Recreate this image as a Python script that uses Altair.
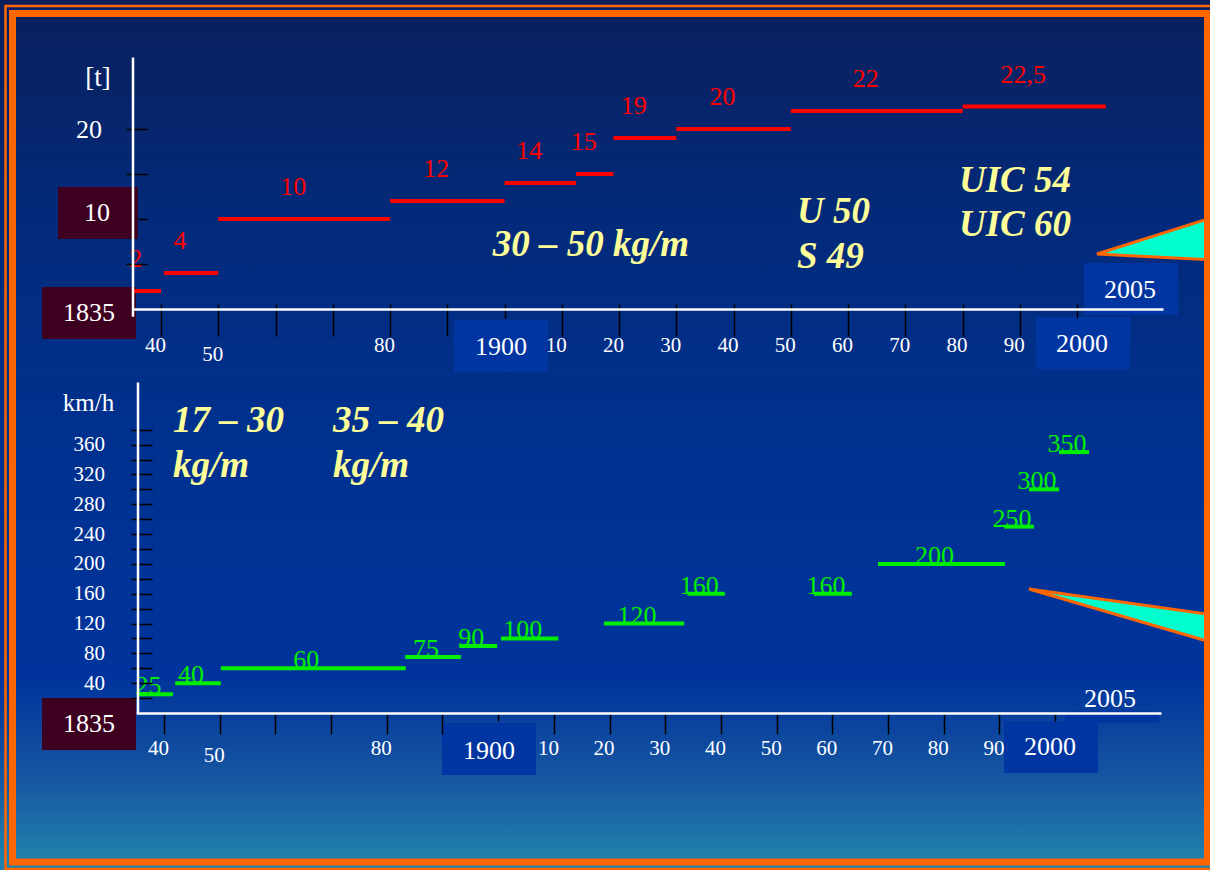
import altair as alt
import pandas as pd

# ---------------- data ----------------
# upper panel: axle load [t]
load_start = [1835, 1840.5, 1850, 1880, 1900, 1912.5, 1919, 1930, 1950, 1980]
load_end = [1840, 1850, 1880, 1900, 1912.5, 1919, 1930, 1950, 1980, 2005]
load_t = [2, 4, 10, 12, 14, 15, 19, 20, 22, 22.5]
load_label = ["2", "4", "10", "12", "14", "15", "19", "20", "22", "22,5"]

# lower panel: speed [km/h]
speed_start = [1835.3, 1842, 1850.2, 1883.3, 1893, 1900.5, 1919, 1934, 1956.7, 1968.2, 1990.8, 1995.3, 2000.7]
speed_end = [1841.6, 1850.2, 1883.4, 1893.3, 1899.8, 1910.8, 1933.4, 1940.7, 1963.5, 1991, 1996.2, 2000.7, 2006.1]
speed_kmh = [25, 40, 60, 75, 90, 100, 120, 160, 160, 200, 250, 300, 350]
speed_label = ["25", "40", "60", "75", "90", "100", "120", "160", "160", "200", "250", "300", "350"]

# axis ticks / labels
decade_ticks = [1840, 1850, 1860, 1870, 1880, 1890, 1900, 1910, 1920, 1930, 1940,
                1950, 1960, 1970, 1980, 1990, 2000]
year_labels = [1840, 1850, 1880, 1910, 1920, 1930, 1940, 1950, 1960, 1970, 1980, 1990]
load_ticks = [5, 10, 15, 20]
load_labels = [20]
speed_ticks = [20, 40, 60, 80, 100, 120, 140, 160, 180, 200, 220, 240, 260, 280,
               300, 320, 340, 360, 380]
speed_labels = [40, 80, 120, 160, 200, 240, 280, 320, 360]

# ---------------- styling ----------------
FONT = "Liberation Serif"
W, H = 1210, 870
ORANGE = "#ff6600"
YELLOW = "#ffff99"
MAROON = "#3d0020"
BOXBLUE = "#0035a2"

one = alt.Data(values=[{"a": 1}])

top_x = alt.Scale(domain=[1835, 2015], range=[132.4, 1163], nice=False, zero=False)
top_y = alt.Scale(domain=[-0.8, 28], range=[316.2, 57], nice=False, zero=False)
bot_x = alt.Scale(domain=[1835, 2019], range=[136.2, 1160.9], nice=False, zero=False)
bot_y = alt.Scale(domain=[0, 444], range=[713, 382], nice=False, zero=False)


def tick_axis_x(ypix, long, short):
    return alt.Axis(orient="bottom", offset=ypix - H, values=decade_ticks, labels=False,
                    domain=False, grid=False, ticks=True, tickColor="black", tickWidth=1.5,
                    tickSize={"condition": {"test": "datum.value == 1900 || datum.value == 2000",
                                            "value": short}, "value": long},
                    title=None, zindex=1)


def main_axis_x(ypix, pad, pad50):
    return alt.Axis(orient="bottom", offset=ypix - H, values=year_labels,
                    labelExpr="'' + (datum.value % 100)", domain=True, domainColor="white",
                    domainWidth=2.5, ticks=False, tickSize=0, grid=False, labelColor="white",
                    labelFont=FONT, labelFontSize=21, labelBaseline="middle",
                    labelPadding={"condition": {"test": "datum.value == 1850", "value": pad50},
                                  "value": pad},
                    labelOffset=-6, labelFlush=False, labelOverlap=False, title=None, zindex=1)


def tick_axis_y(xpix, values, short_test=None):
    size = 21
    if short_test:
        size = {"condition": {"test": short_test, "value": 9}, "value": 21}
    return alt.Axis(orient="left", offset=-xpix, values=values, labels=False, domain=False,
                    grid=False, ticks=True, tickColor="black", tickWidth=1.5, tickSize=size,
                    title=None, zindex=1)


def main_axis_y(xpix, values, fsize, pad, title, tx, ty, tsize):
    return alt.Axis(orient="left", offset=-xpix, values=values, domain=True,
                    domainColor="white", domainWidth=2.5, ticks=False, tickSize=0, grid=False,
                    labelColor="white", labelFont=FONT, labelFontSize=fsize, labelPadding=pad,
                    labelOverlap=False, labelFlush=False,
                    title=title, titleColor="white", titleFont=FONT, titleFontSize=tsize,
                    titleFontWeight="normal", titleAngle=0, titleX=tx, titleY=ty,
                    titleAlign="center", titleBaseline="middle", zindex=1)


def txt(s, x, y, size, color="white", align="center", baseline="middle",
        style="normal", weight="normal"):
    return alt.Chart(one).mark_text(text=s, font=FONT, fontSize=size, color=color, align=align,
                                    baseline=baseline, fontStyle=style,
                                    fontWeight=weight).encode(x=alt.value(x), y=alt.value(y))


def box(x, x2, y, y2, color):
    return alt.Chart(one).mark_rect(color=color).encode(
        x=alt.value(x), x2=alt.value(x2), y=alt.value(y), y2=alt.value(y2))


def yellow(s, x, y, align="left"):
    return txt(s, x, y, 37, color=YELLOW, align=align, baseline="alphabetic",
               style="italic", weight="bold")


def callout(tip, top, bottom):
    df = pd.DataFrame({"px": [tip[0], top[0]], "py": [tip[1], top[1]],
                       "py2": [tip[1], bottom[1]]})
    return alt.Chart(df).mark_area(fill="#00ffcc", stroke=ORANGE, strokeWidth=3,
                                   orient="vertical", interpolate="linear").encode(
        x=alt.X("px:Q", scale=None, axis=None),
        y=alt.Y("py:Q", scale=None, axis=None),
        y2="py2:Q")


# ---------------- background & frame ----------------
bg = alt.Chart(one).mark_rect(fill=alt.Gradient(
    gradient="linear", x1=0, x2=0, y1=0, y2=1,
    stops=[alt.GradientStop(color="#0a1f5c", offset=0.0),
           alt.GradientStop(color="#032a7a", offset=0.25),
           alt.GradientStop(color="#00318f", offset=0.5),
           alt.GradientStop(color="#00349c", offset=0.78),
           alt.GradientStop(color="#0c459e", offset=0.84),
           alt.GradientStop(color="#1758a2", offset=0.9),
           alt.GradientStop(color="#2183ad", offset=0.99),
           alt.GradientStop(color="#2183ad", offset=1.0)])).encode(
    x=alt.value(0), x2=alt.value(W), y=alt.value(0), y2=alt.value(H))

frame_thick = alt.Chart(one).mark_rect(fillOpacity=0, stroke=ORANGE, strokeWidth=7).encode(
    x=alt.value(12.5), x2=alt.value(1207.5), y=alt.value(13.5), y2=alt.value(862))
frame_thin = alt.Chart(one).mark_rect(fillOpacity=0, stroke=ORANGE, strokeWidth=2.5).encode(
    x=alt.value(5.5), x2=alt.value(1216), y=alt.value(6), y2=alt.value(869))

# ---------------- data layers ----------------
top_df = pd.DataFrame({"start": load_start, "end": load_end, "load": load_t,
                       "label": load_label})
bot_df = pd.DataFrame({"start": speed_start, "end": speed_end, "kmh": speed_kmh,
                       "label": speed_label})

top_rules = alt.Chart(top_df).mark_rule(color="#ff0000", strokeWidth=4).encode(
    x=alt.X("start:Q", scale=top_x, axis=tick_axis_x(304, 32, 14)),
    x2="end:Q",
    y=alt.Y("load:Q", scale=top_y, axis=tick_axis_y(147, load_ticks, "datum.value == 10")))

top_text = alt.Chart(top_df).transform_calculate(
    mid="(datum.start + datum.end) / 2").mark_text(
    font=FONT, fontSize=26, color="#ff0000", baseline="middle", dx=-11, dy=-32).encode(
    x=alt.X("mid:Q", scale=top_x, axis=main_axis_x(309, 36, 45)),
    y=alt.Y("load:Q", scale=top_y,
            axis=main_axis_y(132.5, load_labels, 26, 31, "[t]", -35, 77, 27)),
    text="label:N")

bot_rules = alt.Chart(bot_df).mark_rule(color="#00ee00", strokeWidth=4).encode(
    x=alt.X("start:Q", scale=bot_x, axis=tick_axis_x(712, 22, 9)),
    x2="end:Q",
    y=alt.Y("kmh:Q", scale=bot_y, axis=tick_axis_y(152, speed_ticks)))

bot_text = alt.Chart(bot_df).transform_calculate(
    mid="(datum.start + datum.end) / 2").mark_text(
    font=FONT, fontSize=26, color="#00ee00", baseline="alphabetic", dx=-7, dy=0).encode(
    x=alt.X("mid:Q", scale=bot_x, axis=main_axis_x(713, 35, 42)),
    y=alt.Y("kmh:Q", scale=bot_y,
            axis=main_axis_y(137.5, speed_labels, 21, 33, "km/h", -49.5, 402, 25)),
    text="label:N")

# ---------------- annotations ----------------
annotations = [
    callout((1097, 254), (1214, 217), (1214, 260)),
    callout((1029, 589), (1214, 615), (1214, 643)),
    frame_thin, frame_thick,
    # boxes
    box(58, 138, 187, 239, MAROON), txt("10", 97, 213, 26),
    box(42, 136, 287, 339, MAROON), txt("1835", 89, 313, 26),
    box(42, 136, 698, 750, MAROON), txt("1835", 89, 724, 26),
    box(454, 548, 320, 372, BOXBLUE), txt("1900", 501, 347, 26),
    box(1036, 1130, 317, 369, BOXBLUE), txt("2000", 1082, 344, 26),
    box(1084, 1178, 263, 315, BOXBLUE), txt("2005", 1130, 290, 26),
    box(442, 536, 723, 775, BOXBLUE), txt("1900", 489, 751, 26),
    box(1004, 1098, 721, 773, BOXBLUE), txt("2000", 1050, 747, 26),
    box(1065, 1159, 711, 723, BOXBLUE), txt("2005", 1110, 699, 26),
    # rail profiles
    yellow("30 \u2013 50 kg/m", 591, 256, align="center"),
    yellow("U 50", 797, 223), yellow("S 49", 797, 268),
    yellow("UIC 54", 959, 192), yellow("UIC 60", 959, 236),
    yellow("17 \u2013 30", 173, 432), yellow("kg/m", 173, 477),
    yellow("35 \u2013 40", 333, 432), yellow("kg/m", 333, 477),
]

chart = alt.layer(bg, *annotations, top_rules, top_text, bot_rules, bot_text).resolve_scale(
    x="independent", y="independent").properties(
    width=W, height=H, autosize=alt.AutoSizeParams(type="none"), padding=0,
    background="#0a1f5c").configure_view(stroke=None)

chart.save("out.html", embed_options={"renderer": "svg", "actions": False})
